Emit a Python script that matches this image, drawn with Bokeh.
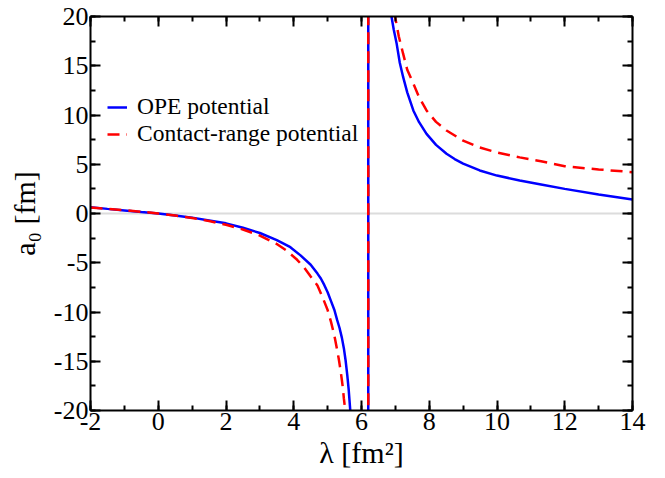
from bokeh.plotting import figure
from bokeh.models import (Range1d, LinearAxis, SingleIntervalTicker, Span,
                          Legend, LegendItem, CustomJSTickFormatter)
from bokeh.embed import file_html
from bokeh.resources import INLINE

# ---- data ----
lam_ope = [-2, -1.5, -1, -0.5, 0, 0.5, 1, 1.5, 2, 2.5, 3, 3.5, 3.9, 4.2, 4.5, 4.7,
           4.8, 4.9, 5.0, 5.1, 5.2, 5.28, 5.35, 5.42, 5.48, 5.53, 5.58, 5.62, 5.66,
           5.70, 5.75, 6.19, 6.21, 6.6, 6.7, 6.8, 6.87, 6.95, 7.04, 7.13, 7.23,
           7.35, 7.53, 7.7, 7.92, 8.2, 8.51, 8.75, 9.0, 9.49, 10.0, 10.67, 11.3,
           12.0, 13.0, 14.0]
a_ope = [0.64, 0.47, 0.31, 0.15, 0.0, -0.2, -0.42, -0.7, -1.0, -1.45, -1.98, -2.7,
         -3.42, -4.25, -5.2, -6.1, -6.6, -7.25, -8.0, -8.9, -9.8, -10.8, -11.6,
         -12.6, -13.7, -14.9, -16.4, -17.8, -19.6, -21.6, -24.5, -3000, 3000, 35,
         28, 23.3, 20.3, 18.7, 17.2, 15.3, 13.84, 12.3, 10.46, 9.27, 8.09, 6.97,
         6.06, 5.53, 5.07, 4.37, 3.85, 3.35, 2.95, 2.5, 1.93, 1.42]

lam_contact = [-2, -1.5, -1, -0.5, 0, 0.5, 1, 1.5, 2, 2.5, 3, 3.5, 3.8, 4.1, 4.3,
               4.5, 4.7, 4.85, 5.0, 5.1, 5.2, 5.25, 5.3, 5.34, 5.38, 5.42, 5.45,
               5.48, 5.52, 5.56, 5.6, 6.19, 6.21, 6.6, 6.8, 6.9, 6.99, 7.1, 7.23,
               7.35, 7.53, 7.7, 7.92, 8.2, 8.51, 9.0, 9.49, 10.0, 10.67, 11.3, 12.0,
               13.0, 14.0]
a_contact = [0.6, 0.47, 0.33, 0.18, 0.0, -0.21, -0.46, -0.77, -1.14, -1.62, -2.25,
             -3.1, -3.8, -4.7, -5.45, -6.4, -7.3, -8.5, -9.8, -11.0, -12.4, -13.3,
             -14.2, -15.0, -15.9, -16.9, -17.7, -18.8, -20.0, -21.3, -23.0, -3000,
             3000, 36, 26.5, 22.8, 20.0, 18.0, 16.2, 14.6, 13.2, 11.8, 10.46, 9.3,
             8.43, 7.4, 6.7, 6.2, 5.7, 5.3, 4.8, 4.47, 4.2]

series_labels = ["OPE potential", "Contact-range potential"]
x_title = "λ [fm²]"
y_title = "a₀ [fm]"
x_range = (-2, 14)
y_range = (-20, 20)
x_tick_step = 2
y_tick_step = 5

FONT = "Liberation Serif"

p = figure(width=650, height=476, output_backend="svg", toolbar_location=None,
           x_range=Range1d(*x_range), y_range=Range1d(*y_range),
           x_axis_location=None, y_axis_location=None,
           min_border_left=90, min_border_right=18, min_border_top=16,
           min_border_bottom=66)
p.outline_line_color = None
p.xgrid.visible = False
p.ygrid.visible = False
p.background_fill_color = "white"
p.border_fill_color = "white"


def make_axis(step, show_labels, title=None, standoff=5):
    ax = LinearAxis(ticker=SingleIntervalTicker(interval=step, num_minor_ticks=2))
    ax.axis_line_width = 2
    ax.axis_line_color = "black"
    ax.major_tick_in = 10
    ax.major_tick_out = 0
    ax.minor_tick_in = 5
    ax.minor_tick_out = 0
    ax.major_tick_line_width = 2
    ax.minor_tick_line_width = 2
    ax.major_tick_line_color = "black"
    ax.minor_tick_line_color = "black"
    if show_labels:
        ax.formatter = CustomJSTickFormatter(code="return tick.toFixed(0);")
        ax.major_label_text_font = FONT
        ax.major_label_text_font_size = "26px"
        ax.major_label_text_color = "black"
        ax.major_label_standoff = 2
    else:
        ax.major_label_text_font_size = "1px"
        ax.major_label_text_color = None
        ax.major_label_standoff = 0
    if title:
        ax.axis_label = title
        ax.axis_label_text_font = FONT
        ax.axis_label_text_font_size = "30px"
        ax.axis_label_text_font_style = "normal"
        ax.axis_label_text_color = "black"
        ax.axis_label_standoff = standoff
    return ax


p.add_layout(make_axis(x_tick_step, True, x_title, 3), "below")
p.add_layout(make_axis(y_tick_step, True, y_title, 10), "left")
p.add_layout(make_axis(x_tick_step, False), "above")
p.add_layout(make_axis(y_tick_step, False), "right")

p.add_layout(Span(location=0, dimension="width", line_color="#dcdcdc",
                  line_width=2, level="underlay"))

r_ope = p.line(lam_ope, a_ope, line_color="#0000ff", line_width=2.5)
r_con = p.line(lam_contact, a_contact, line_color="#ff0000", line_width=2.5,
               line_dash="12 7")

legend = Legend(items=[LegendItem(label=series_labels[0], renderers=[r_ope]),
                       LegendItem(label=series_labels[1], renderers=[r_con])],
                location=(17, 263))
legend.padding = 0
legend.margin = 0
legend.spacing = 0
legend.border_line_color = None
legend.background_fill_alpha = 0
legend.glyph_width = 20
legend.glyph_height = 26
legend.label_height = 26
legend.label_standoff = 10
legend.label_text_font = FONT
legend.label_text_font_size = "23.5px"
legend.label_text_color = "black"
p.add_layout(legend, "center")

open("out.html", "w").write(file_html(p, INLINE))
